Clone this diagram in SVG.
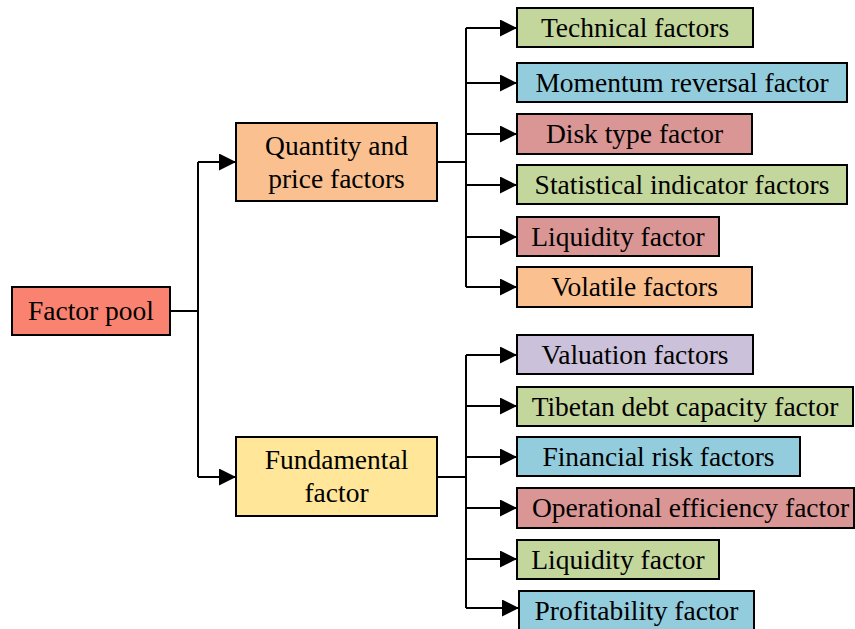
<svg xmlns="http://www.w3.org/2000/svg" width="855" height="629" viewBox="0 0 855 629">
<style>
rect{stroke:#000;stroke-width:2}
text{font-family:"Liberation Serif","Times New Roman",serif;font-size:27.5px;fill:#000;text-anchor:middle}
.c line,.c path{stroke:#000;stroke-width:2;fill:none}
.g{fill:#C3D69B}.b{fill:#93CDDD}.r{fill:#D99694}.o{fill:#FAC090}.p{fill:#CCC1DA}.y{fill:#FFE699}.s{fill:#FA8270}
</style>
<defs>
<marker id="ah" markerUnits="userSpaceOnUse" markerWidth="17" markerHeight="17" refX="17" refY="8.5" orient="auto">
<path d="M0,0 L17,8.5 L0,17 z" fill="#000"/>
</marker>
</defs>
<rect width="855" height="629" fill="#fff" style="stroke:none"/>
<g class="c" id="connectors">
<line x1="170" y1="311" x2="198" y2="311"/>
<line x1="198" y1="162" x2="198" y2="477"/>
<line x1="198" y1="162" x2="236" y2="162" marker-end="url(#ah)"/>
<line x1="198" y1="477" x2="236" y2="477" marker-end="url(#ah)"/>
<line x1="437" y1="162" x2="466" y2="162"/>
<line x1="466" y1="28" x2="466" y2="287"/>
<line x1="466" y1="28" x2="517" y2="28" marker-end="url(#ah)"/>
<line x1="466" y1="83" x2="517" y2="83" marker-end="url(#ah)"/>
<line x1="466" y1="134" x2="517" y2="134" marker-end="url(#ah)"/>
<line x1="466" y1="185" x2="517" y2="185" marker-end="url(#ah)"/>
<line x1="466" y1="237" x2="517" y2="237" marker-end="url(#ah)"/>
<line x1="466" y1="287" x2="517" y2="287" marker-end="url(#ah)"/>
<line x1="437" y1="477" x2="466" y2="477"/>
<line x1="466" y1="355" x2="466" y2="608"/>
<line x1="466" y1="355" x2="517" y2="355" marker-end="url(#ah)"/>
<line x1="466" y1="406" x2="517" y2="406" marker-end="url(#ah)"/>
<line x1="466" y1="457" x2="517" y2="457" marker-end="url(#ah)"/>
<line x1="466" y1="508" x2="517" y2="508" marker-end="url(#ah)"/>
<line x1="466" y1="559" x2="517" y2="559" marker-end="url(#ah)"/>
<line x1="466" y1="608" x2="519" y2="608" marker-end="url(#ah)"/>
</g>
<g id="factor-pool"><rect class="s" x="12" y="287" width="158" height="48"/><text x="91" y="320">Factor pool</text></g>
<g id="quantity-price"><rect class="o" x="236" y="123" width="201" height="78"/><text x="336.5" y="155">Quantity and</text><text x="336.5" y="188">price factors</text></g>
<g id="fundamental"><rect class="y" x="236" y="437" width="201" height="79"/><text x="336.5" y="469">Fundamental</text><text x="336.5" y="502">factor</text></g>
<g id="technical"><rect class="g" x="517" y="8" width="236" height="39"/><text x="635" y="37">Technical factors</text></g>
<g id="momentum"><rect class="b" x="517" y="63" width="330" height="39"/><text x="682" y="92">Momentum reversal factor</text></g>
<g id="disk"><rect class="r" x="517" y="114" width="235" height="40"/><text x="634.5" y="143">Disk type factor</text></g>
<g id="statistical"><rect class="g" x="517" y="165" width="330" height="39"/><text x="682" y="194">Statistical indicator factors</text></g>
<g id="liquidity1"><rect class="r" x="517" y="217" width="202" height="39"/><text x="618" y="246">Liquidity factor</text></g>
<g id="volatile"><rect class="o" x="517" y="267" width="235" height="40"/><text x="634.5" y="296">Volatile factors</text></g>
<g id="valuation"><rect class="p" x="517" y="335" width="236" height="39"/><text x="635" y="364">Valuation factors</text></g>
<g id="tibetan"><rect class="g" x="517" y="387" width="336" height="39"/><text x="685" y="416">Tibetan debt capacity factor</text></g>
<g id="financial"><rect class="b" x="517" y="437" width="283" height="39"/><text x="658.5" y="466">Financial risk factors</text></g>
<g id="operational"><rect class="r" x="517" y="488" width="337" height="40"/><text x="532" y="517" style="text-anchor:start">Operational efficiency factor</text></g>
<g id="liquidity2"><rect class="g" x="517" y="540" width="202" height="39"/><text x="618" y="569">Liquidity factor</text></g>
<g id="profitability"><rect class="b" x="519" y="591" width="235" height="42"/><text x="636.5" y="620">Profitability factor</text></g>
</svg>
